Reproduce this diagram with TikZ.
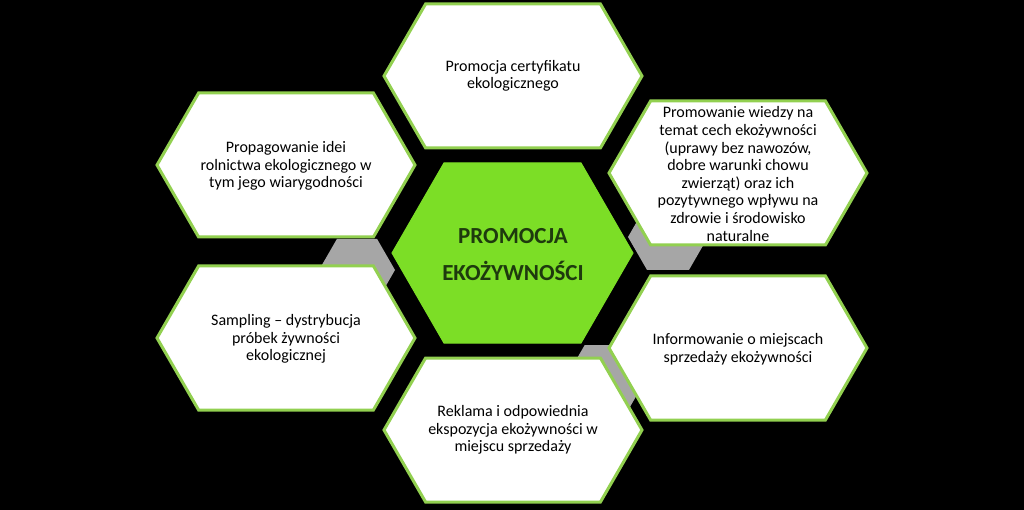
\documentclass[tikz,border=0pt]{standalone}
\usepackage{fontspec}
\setmainfont{Carlito}
\definecolor{hexgreen}{RGB}{146,208,80}
\definecolor{coregreen}{RGB}{124,222,38}
\definecolor{coretext}{RGB}{30,58,14}
\definecolor{fillgray}{RGB}{166,166,166}
\newcommand\hexshape[4]{({#1-#3},{#2}) -- ({#1-#3+0.57735*#4},{#2-#4}) -- ({#1+#3-0.57735*#4},{#2-#4}) -- ({#1+#3},{#2}) -- ({#1+#3-0.57735*#4},{#2+#4}) -- ({#1-#3+0.57735*#4},{#2+#4}) -- cycle}
\tikzset{
  outerhex/.style={fill=white, draw=hexgreen, line width=3pt, line join=miter},
  grayhex/.style={fill=fillgray, draw=none},
  coregap/.style={draw=black, fill=black, line width=6pt, line join=miter},
  corehex/.style={fill=coregreen, draw=coregreen, line width=1pt, line join=miter},
  hextext/.style={align=center, font=\fontsize{16}{17.6}\selectfont, text=black, inner sep=0pt},
  coretextstyle/.style={align=center, font=\fontsize{23}{37}\selectfont\bfseries, text=coretext, inner sep=0pt}
}
\begin{document}
\begin{tikzpicture}[x=1pt,y=-1pt]
\fill[black] (0,0) rectangle (1024,510);
\useasboundingbox (0,0) rectangle (1024,510);
% gray filler hexagons
\path[grayhex] \hexshape{357}{270}{38}{31};
\path[grayhex] \hexshape{668}{237}{40}{33};
\path[grayhex] \hexshape{597.5}{393}{40.5}{48};
% outer hexagons
\draw[outerhex] \hexshape{513}{76}{129}{72};
\draw[outerhex] \hexshape{738}{173}{129}{72};
\draw[outerhex] \hexshape{738}{348}{129}{72};
\draw[outerhex] \hexshape{513}{430}{129}{72};
\draw[outerhex] \hexshape{286}{338}{129}{72};
\draw[outerhex] \hexshape{286}{165}{129}{72};
% central hexagon
\draw[coregap] \hexshape{512.5}{253}{120.5}{90};
\draw[corehex] \hexshape{512.5}{253}{120.5}{90};
% texts
\node[coretextstyle] (core) at (513,255) {PROMOCJA\\EKOŻYWNOŚCI};
\node[hextext] (ntop) at (513,76) {Promocja certyfikatu\\ekologicznego};
\node[hextext] (ntr) at (738,174) {Promowanie wiedzy na\\temat cech ekożywności\\(uprawy bez nawozów,\\dobre warunki chowu\\zwierząt) oraz ich\\pozytywnego wpływu na\\zdrowie i środowisko\\naturalne};
\node[hextext] (nbr) at (738,349) {Informowanie o miejscach\\sprzedaży ekożywności};
\node[hextext] (nbot) at (513,430) {Reklama i odpowiednia\\ekspozycja ekożywności w\\miejscu sprzedaży};
\node[hextext] (nbl) at (286,339) {Sampling – dystrybucja\\próbek żywności\\ekologicznej};
\node[hextext] (ntl) at (286,166) {Propagowanie idei\\rolnictwa ekologicznego w\\tym jego wiarygodności};
\end{tikzpicture}
\end{document}
